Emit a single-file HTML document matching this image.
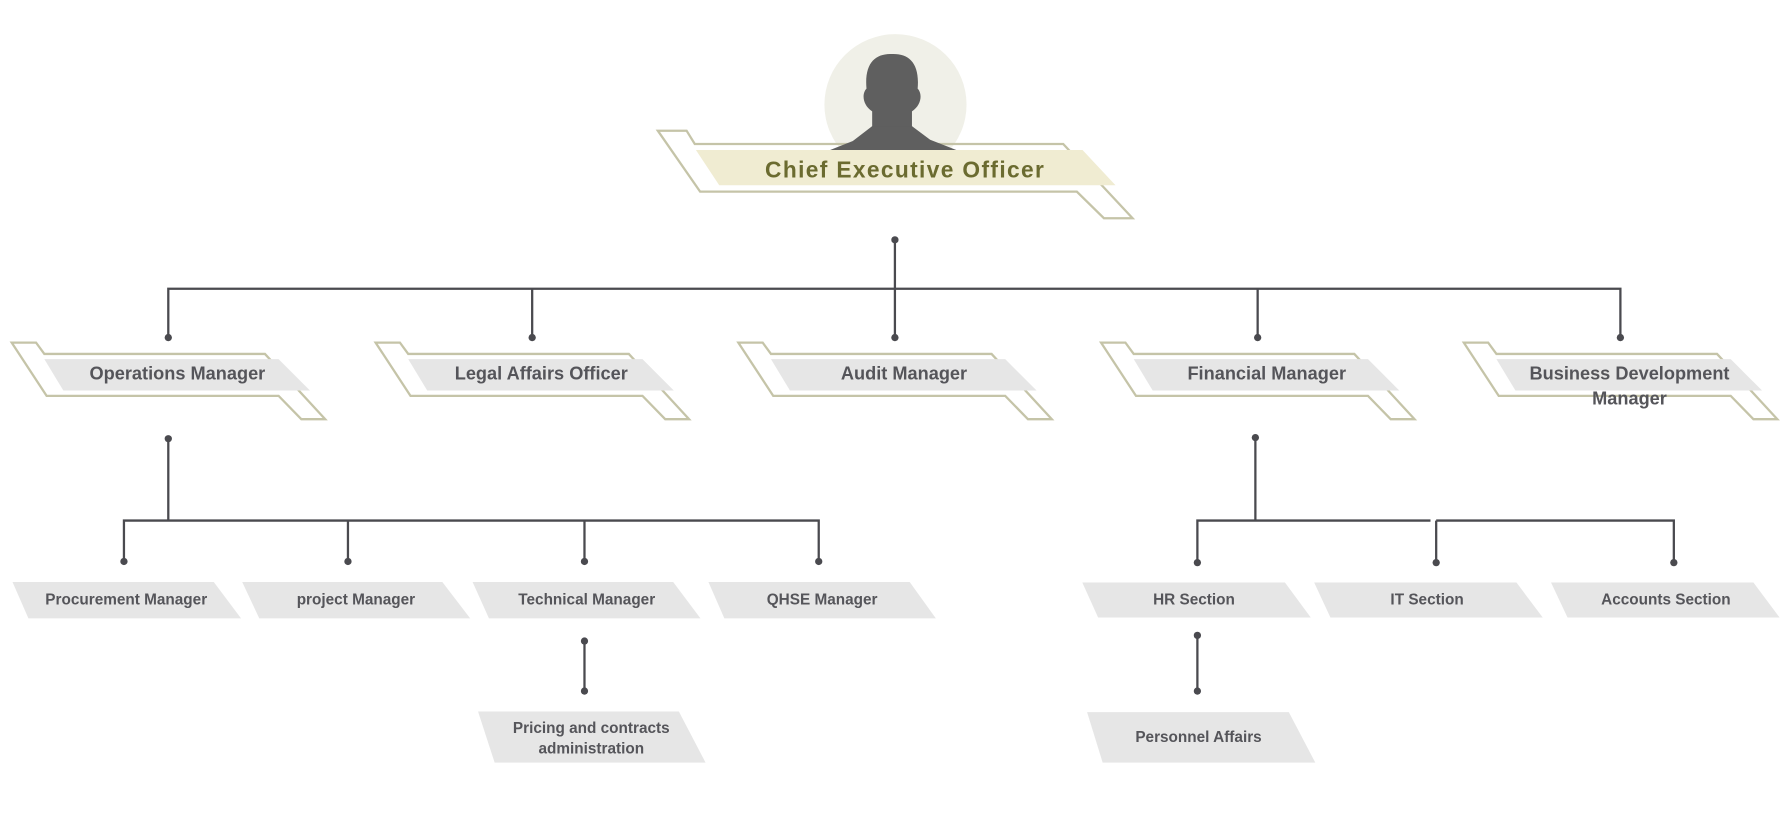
<!DOCTYPE html>
<html><head><meta charset="utf-8"><style>
html,body{margin:0;padding:0;background:#fff;}
svg{display:block;}
text{font-family:"Liberation Sans",sans-serif;font-weight:bold;fill:#55555a;text-anchor:middle;}
</style></head><body>
<svg width="1783" height="832" viewBox="0 0 1568 732" preserveAspectRatio="none" xmlns="http://www.w3.org/2000/svg">
<defs>
<g id="mgr">
<polygon points="10.3,301.4 31.7,301.4 39,311.4 233,311.4 286,368.8 265,368.8 245,348.3 41,348.3" fill="none" stroke="#c5c4a8" stroke-width="2"/>
<polygon points="39,316 245,316 272.6,343.6 55.7,343.6" fill="#e6e6e6"/>
</g>
</defs>
<!-- CEO -->
<ellipse cx="787.5" cy="92" rx="62.5" ry="62" fill="#f0f0e8"/>
<polygon points="578.5,115 603.8,115 611,126.7 935,126.7 996,192 970.8,192 947,168.6 615.7,168.6" fill="none" stroke="#c5c4a8" stroke-width="2"/>
<path d="M767,112 L767,98 C758,92 758,82 762,78 C760,55 770,47 784.5,47.5 C799,47 809,55 807,78 C811,82 811,92 802,98 L802,112 Z" fill="#5f5f5f"/>
<path d="M730,132 L750,124 L767,111 L802,111 L818,123 L841,132 Z" fill="#5f5f5f"/>
<polygon points="612,132 952,132 981,163 632.5,163" fill="#f0ecd2"/>
<text x="796" y="156" font-size="20" letter-spacing="1.2" style="fill:#6b6b30">Chief Executive Officer</text>
<!-- connectors -->
<g stroke="#4a4a4f" stroke-width="2" fill="none">
<path d="M787,211 V254 M148,297 V254 H1425 V297 M468,254 V297 M787,254 V297 M1106,254 V297"/>
<path d="M148,386 V458 M109,494 V458 H720 V494 M306,458 V494 M514,458 V494"/>
<path d="M514,564 V608"/>
<path d="M1104,385 V458 M1053,495 V458 H1258 M1263,458 H1472 V495 M1263,458 V495"/>
<path d="M1053,559 V608"/>
</g>
<g fill="#4a4a4f">
<circle cx="787" cy="211" r="3.2"/>
<circle cx="148" cy="297" r="3.2"/><circle cx="468" cy="297" r="3.2"/><circle cx="787" cy="297" r="3.2"/><circle cx="1106" cy="297" r="3.2"/><circle cx="1425" cy="297" r="3.2"/>
<circle cx="148" cy="386" r="3.2"/><circle cx="1104" cy="385" r="3.2"/>
<circle cx="109" cy="494" r="3.2"/><circle cx="306" cy="494" r="3.2"/><circle cx="514" cy="494" r="3.2"/><circle cx="720" cy="494" r="3.2"/>
<circle cx="514" cy="564" r="3.2"/><circle cx="514" cy="608" r="3.2"/>
<circle cx="1053" cy="495" r="3.2"/><circle cx="1263" cy="495" r="3.2"/><circle cx="1472" cy="495" r="3.2"/>
<circle cx="1053" cy="559" r="3.2"/><circle cx="1053" cy="608" r="3.2"/>
</g>
<!-- managers -->
<use href="#mgr"/>
<use href="#mgr" transform="translate(320,0)"/>
<use href="#mgr" transform="translate(639,0)"/>
<use href="#mgr" transform="translate(958,0)"/>
<use href="#mgr" transform="translate(1277,0)"/>
<g font-size="16">
<text x="156" y="334">Operations Manager</text>
<text x="476" y="334">Legal Affairs Officer</text>
<text x="795" y="334">Audit Manager</text>
<text x="1114" y="334">Financial Manager</text>
<text x="1433" y="334">Business Development</text>
<text x="1433" y="356">Manager</text>
</g>
<!-- bottom boxes -->
<g fill="#e6e6e6">
<polygon points="11,512 188,512 212,544 25,544"/>
<polygon points="213,512 389,512 413.5,544 228,544"/>
<polygon points="415.6,512 592,512 616,544 430,544"/>
<polygon points="623,512 800,512 823,544 637,544"/>
<polygon points="420.4,626 597,626 620.5,671 435,671"/>
<polygon points="951.8,512.5 1130,512.5 1152.7,543.3 965.7,543.3"/>
<polygon points="1155.7,512.5 1333.6,512.5 1356.7,543.3 1170,543.3"/>
<polygon points="1364,512.5 1542,512.5 1565,543.3 1378.5,543.3"/>
<polygon points="956,626.5 1133.4,626.5 1156.7,671 969.7,671"/>
</g>
<g font-size="13.5">
<text x="111" y="532">Procurement Manager</text>
<text x="313" y="532">project Manager</text>
<text x="516" y="532">Technical Manager</text>
<text x="723" y="532">QHSE Manager</text>
<text x="520" y="645">Pricing and contracts</text>
<text x="520" y="663">administration</text>
<text x="1050" y="532">HR Section</text>
<text x="1255" y="532">IT Section</text>
<text x="1465" y="532">Accounts Section</text>
<text x="1054" y="653">Personnel Affairs</text>
</g>
</svg>
</body></html>
